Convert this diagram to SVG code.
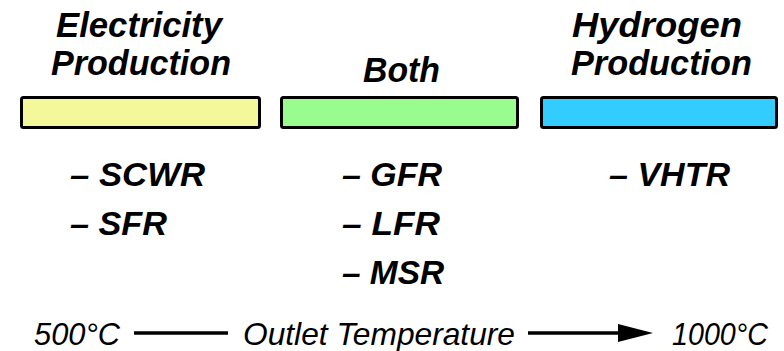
<svg xmlns="http://www.w3.org/2000/svg" width="784" height="351" viewBox="0 0 784 351">
  <style>
    .hd { font-family: "Liberation Sans", Arial, sans-serif; font-weight: bold; font-style: italic; font-size: 35px; fill: #000; }
    .it { font-family: "Liberation Sans", Arial, sans-serif; font-weight: bold; font-style: italic; font-size: 33px; fill: #000; }
    .ax { font-family: "Liberation Sans", Arial, sans-serif; font-style: italic; font-size: 32px; fill: #000; }
    .bar { stroke: #000; stroke-width: 3; }
    .ln { stroke: #000; stroke-width: 3.5; fill: none; }
  </style>

  <!-- Electricity column -->
  <g id="electricity">
    <text class="hd" x="56" y="37" textLength="166" lengthAdjust="spacingAndGlyphs">Electricity</text>
    <text class="hd" x="51" y="75" textLength="180" lengthAdjust="spacingAndGlyphs">Production</text>
    <rect class="bar" x="21.5" y="97.5" width="238" height="30" rx="2" fill="#F4F89B"/>
    <text class="it" x="70" y="186" textLength="135" lengthAdjust="spacingAndGlyphs">– SCWR</text>
    <text class="it" x="70" y="235" textLength="97" lengthAdjust="spacingAndGlyphs">– SFR</text>
  </g>

  <!-- Both column -->
  <g id="both">
    <text class="hd" x="363" y="82" textLength="77" lengthAdjust="spacingAndGlyphs">Both</text>
    <rect class="bar" x="281.5" y="97.5" width="236" height="30" rx="2" fill="#99FC8E"/>
    <text class="it" x="342" y="186" textLength="100" lengthAdjust="spacingAndGlyphs">– GFR</text>
    <text class="it" x="342" y="235" textLength="98" lengthAdjust="spacingAndGlyphs">– LFR</text>
    <text class="it" x="342" y="284" textLength="102" lengthAdjust="spacingAndGlyphs">– MSR</text>
  </g>

  <!-- Hydrogen column -->
  <g id="hydrogen">
    <text class="hd" x="572" y="37" textLength="170" lengthAdjust="spacingAndGlyphs">Hydrogen</text>
    <text class="hd" x="571" y="75" textLength="181" lengthAdjust="spacingAndGlyphs">Production</text>
    <rect class="bar" x="541.5" y="97.5" width="235" height="30" rx="2" fill="#33CCFF"/>
    <text class="it" x="609" y="186" textLength="121" lengthAdjust="spacingAndGlyphs">– VHTR</text>
  </g>

  <!-- Temperature axis labels -->
  <g id="axis-labels">
    <text class="ax" x="34" y="345" textLength="86" lengthAdjust="spacingAndGlyphs">500°C</text>
    <text class="ax" x="243" y="345" textLength="272" lengthAdjust="spacingAndGlyphs">Outlet Temperature</text>
    <text class="ax" x="672" y="345" textLength="96" lengthAdjust="spacingAndGlyphs">1000°C</text>
  </g>

  <!-- Temperature axis connectors -->
  <g id="connectors">
    <line class="ln" x1="134" y1="333" x2="228" y2="333"/>
    <line class="ln" x1="528" y1="333" x2="622" y2="333"/>
    <polygon points="618,324 653,333 618,342" fill="#000"/>
  </g>
</svg>
